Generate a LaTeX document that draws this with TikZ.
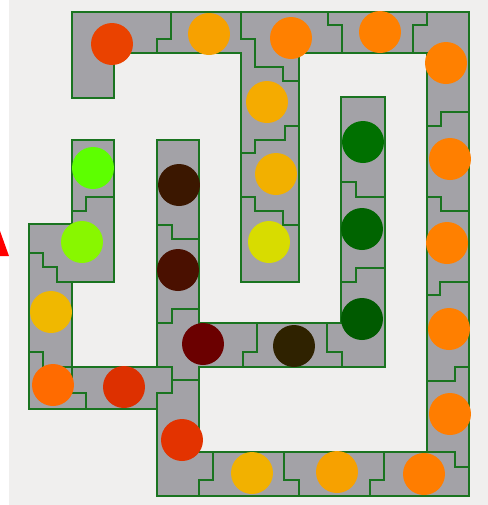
\documentclass[tikz,border=0pt]{standalone}
\usepackage{amsmath}
\usepackage{amssymb}
\definecolor{bgpanel}{HTML}{F0EFEE}
\definecolor{tilegrey}{HTML}{A3A2A7}
\definecolor{wallgreen}{HTML}{1A7420}

\begin{document}
\begin{tikzpicture}[x=0.02cm,y=-0.02cm,
                wall/.style={draw=wallgreen,line width=1.4pt,line join=miter}]
                \useasboundingbox (0,0) rectangle (488,505);
                \fill[white] (0,0) rectangle (488,505);
                \fill[bgpanel] (9,0) rectangle (488,505);
                \fill[red] (0,231) -- (9,256) -- (0,256) -- cycle;
                % the track
                \filldraw[wall,fill=tilegrey] (72,12) -- (469,12) -- (469,496) -- (157,496)
                    -- (157,409) -- (29,409) -- (29,224) -- (72,224) -- (72,140) -- (114,140)
                    -- (114,282) -- (72,282) -- (72,367) -- (157,367) -- (157,140) -- (199,140)
                    -- (199,323) -- (341,323) -- (341,97) -- (385,97) -- (385,367) -- (199,367)
                    -- (199,452) -- (427,452) -- (427,53) -- (299,53) -- (299,282) -- (241,282)
                    -- (241,53) -- (114,53) -- (114,98) -- (72,98) -- cycle;
                % joints between the cells
                \draw[wall] (171,12) -- (171,39) -- (157,39) -- (157,53);
                \draw[wall] (241,12) -- (241,39) -- (255,39) -- (255,67) -- (283,67) -- (283,81) -- (299,81);
                \draw[wall] (328,12) -- (328,25) -- (342,25) -- (342,53);
                \draw[wall] (427,12) -- (427,25) -- (413,25) -- (413,53);
                \draw[wall] (469,112) -- (441,112) -- (441,126) -- (427,126);
                \draw[wall] (427,197) -- (441,197) -- (441,211) -- (469,211);
                \draw[wall] (469,282) -- (440,282) -- (440,295) -- (427,295);
                \draw[wall] (469,367) -- (455,367) -- (455,381) -- (427,381);
                \draw[wall] (427,452) -- (455,452) -- (455,467) -- (469,467);
                \draw[wall] (384,452) -- (384,480) -- (370,480) -- (370,496);
                \draw[wall] (284,452) -- (284,480) -- (299,480) -- (299,496);
                \draw[wall] (213,452) -- (213,480) -- (199,480) -- (199,496);
                \draw[wall] (157,367) -- (172,367) -- (172,393) -- (157,393) -- (157,409);
                \draw[wall] (172,380) -- (199,380);
                \draw[wall] (157,323) -- (172,323) -- (172,309) -- (199,309);
                \draw[wall] (157,225) -- (172,225) -- (172,239) -- (199,239);
                \draw[wall] (257,323) -- (257,352) -- (243,352) -- (243,367);
                \draw[wall] (327,323) -- (327,352) -- (342,352) -- (342,367);
                \draw[wall] (341,182) -- (356,182) -- (356,197) -- (385,197);
                \draw[wall] (385,268) -- (356,268) -- (356,282) -- (341,282);
                \draw[wall] (299,126) -- (285,126) -- (285,140) -- (255,140) -- (255,153) -- (241,153);
                \draw[wall] (241,197) -- (255,197) -- (255,211) -- (283,211) -- (283,225) -- (299,225);
                \draw[wall] (72,211) -- (86,211) -- (86,197) -- (114,197);
                \draw[wall] (29,253) -- (43,253) -- (43,267) -- (57,267) -- (57,282) -- (72,282);
                \draw[wall] (29,352) -- (43,352) -- (43,367) -- (72,367);
                \draw[wall] (72,367) -- (72,393) -- (86,393) -- (86,409);
                % balls
                \foreach \cx/\cy/\col in {112/44/EA4200, 209/34/F7A100, 291/38/FF8000,
                    380/32/FF8000, 446/63/FF8000, 450/159/FF7F00, 447/243/FF8000,
                    449/329/FF7F00, 450/414/FF7D00, 424/474/FF7D00, 337/472/F7A100,
                    252/473/F2B100, 182/440/E33300, 124/387/DD3000, 53/385/FF6B00,
                    51/312/F0B800, 82/242/88F700, 93/168/5DFF00, 179/185/3B1700,
                    178/270/4A1000, 203/344/6B0000, 294/346/2F2200, 362/319/005A00,
                    362/229/006400, 363/142/007000, 269/242/D8DC00, 276/174/F2B000,
                    267/102/F5AB00}{
                    \definecolor{ball}{HTML}{\col}
                    \fill[ball] (\cx,\cy) circle[radius=0.42cm];
                }
            \end{tikzpicture}
\end{document}
